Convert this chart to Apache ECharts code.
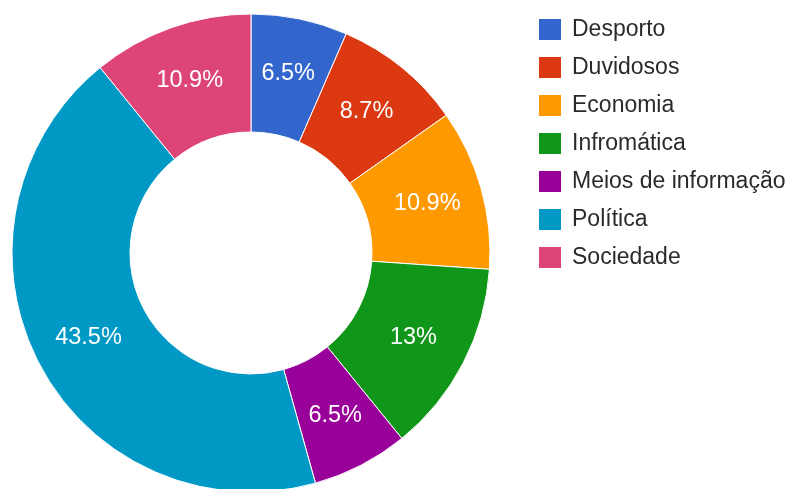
<!DOCTYPE html>
<html>
<head>
<meta charset="utf-8">
<script src="https://cdn.jsdelivr.net/npm/echarts@6/dist/echarts.min.js"></script>
<style>
  html, body { margin: 0; padding: 0; background: #fff; }
  #chart { width: 794px; height: 489px; }
</style>
</head>
<body>
<div id="chart"></div>
<script>
var categories = ['Desporto', 'Duvidosos', 'Economia', 'Infromática', 'Meios de informação', 'Política', 'Sociedade'];
var counts = [3, 4, 5, 6, 3, 20, 5];
var colors = ['#3366cc', '#dc3912', '#ff9900', '#109618', '#990099', '#0099c6', '#dd4477'];

var myChart = echarts.init(document.getElementById('chart'));
var option = {
  color: colors,
  animation: false,
  legend: {
    orient: 'vertical',
    left: 537,
    top: 17,
    padding: 0,
    icon: 'rect',
    itemWidth: 24,
    itemHeight: 23,
    itemGap: 13,
    textStyle: {
      fontFamily: 'Arial, "Liberation Sans", sans-serif',
      fontSize: 23,
      lineHeight: 23,
      color: '#2a2a2a',
      padding: [0, 0, 0, 5]
    },
    data: categories
  },
  series: [{
    type: 'pie',
    center: [251, 253],
    radius: [121, 239],
    startAngle: 90,
    clockwise: true,
    percentPrecision: 1,
    avoidLabelOverlap: false,
    itemStyle: {
      borderColor: '#fff',
      borderWidth: 1
    },
    label: {
      show: true,
      position: 'inside',
      formatter: '{d}%',
      color: '#fff',
      fontSize: 23.5,
      fontFamily: 'Arial, "Liberation Sans", sans-serif'
    },
    labelLine: { show: false },
    emphasis: { disabled: true },
    data: categories.map(function (name, i) {
      return { name: name, value: counts[i] };
    })
  }]
};
myChart.setOption(option);
</script>
</body>
</html>
